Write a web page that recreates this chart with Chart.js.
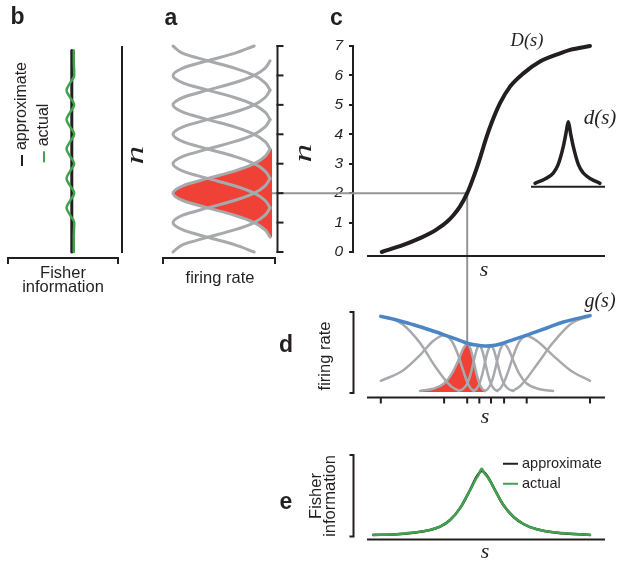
<!DOCTYPE html>
<html>
<head>
<meta charset="utf-8">
<title>Tuning curves and Fisher information</title>
<script src="https://cdn.jsdelivr.net/npm/chart.js@4.4.1/dist/chart.umd.min.js"></script>
<style>
  html, body { margin: 0; padding: 0; background: #fff; }
  #fig { position: relative; width: 625px; height: 565px; overflow: hidden; background: #fff; }
  #fig canvas { position: absolute; left: 0; top: 0; }
  .t { position: absolute; white-space: nowrap; line-height: 1; color: #231f20;
       font-family: "Liberation Sans", Arial, sans-serif; }
  .m { font-family: "Liberation Serif", "Times New Roman", serif; font-style: italic; }
  .p { font-weight: bold; }
  .dash { display: inline-block; width: 11px; height: 2.5px; vertical-align: middle; margin-right: 5px; }
  .two { text-align: center; line-height: 0.82; }
</style>
</head>
<body>
<div id="fig">
  <canvas id="chartC" width="625" height="565"></canvas>
  <canvas id="chartInset" width="625" height="565"></canvas>
  <canvas id="chartA" width="625" height="565"></canvas>
  <canvas id="chartB" width="625" height="565"></canvas>
  <canvas id="chartD" width="625" height="565"></canvas>
  <canvas id="chartE" width="625" height="565"></canvas>
</div>
<script>
// panel a: one tuning profile (rate vs offset from preferred n), shared by all neurons
var tuneOffsets = [-1.5, -1.25, -1, -0.75, -0.5, -0.25, 0, 0.25, 0.5, 0.75, 1, 1.25, 1.5];
var tuneRates = [0.02, 0.07, 0.18, 0.38, 0.65, 0.9, 1, 0.9, 0.65, 0.38, 0.18, 0.07, 0.02];
var neuronN = [0, 1, 2, 3, 4, 5, 6, 7];
var highlightN = 2;

// panel b: Fisher information along n
var fisherN = [0, 0.25, 0.5, 0.75, 1, 1.25, 1.5, 1.75, 2, 2.25, 2.5, 2.75, 3, 3.25, 3.5, 3.75,
               4, 4.25, 4.5, 4.75, 5, 5.25, 5.5, 5.75, 6, 6.25, 6.5, 6.75, 6.85];
var fisherActual = [0.598, 0.598, 0.598, 0.6, 0.602, 0.565, 0.532, 0.565, 0.602, 0.565, 0.532, 0.565,
                    0.602, 0.565, 0.532, 0.565, 0.602, 0.565, 0.532, 0.565, 0.602, 0.565, 0.532, 0.565,
                    0.602, 0.6, 0.598, 0.598, 0.598];
var approxN = [0, 6.85];
var fisherApprox = [0.58, 0.58];

// panel c: D(s), and the inset d(s)
var curveS = [0.062, 0.153, 0.223, 0.265, 0.293, 0.335, 0.363, 0.391, 0.421, 0.441, 0.461,
              0.479, 0.5, 0.524, 0.559, 0.601, 0.657, 0.727, 0.811, 0.853, 0.937];
var curveD = [0, 0.24, 0.47, 0.635, 0.77, 1.02, 1.25, 1.55, 2, 2.4, 2.85,
              3.3, 3.85, 4.4, 5.06, 5.62, 6.07, 6.47, 6.75, 6.87, 7];
var levelLabels = ['0', '1', '2', '3', '4', '5', '6', '7'];
var insetX = [0.054, 0.189, 0.301, 0.365, 0.436, 0.473, 0.504, 0.534, 0.572, 0.642, 0.707, 0.811, 0.932];
var insetY = [0.052, 0.113, 0.197, 0.31, 0.568, 0.76, 0.92, 0.76, 0.568, 0.31, 0.197, 0.113, 0.052];
var linkD = 2;
var linkS = 0.421;

// panel d: tuning curves in s, gain g(s), tick marks at D(s) = 0..7
var tickS = [0.058, 0.324, 0.421, 0.472, 0.521, 0.576, 0.671, 0.937];
var gain = [[0.058, 0.945], [0.125, 0.9], [0.195, 0.84], [0.265, 0.775], [0.324, 0.715], [0.38, 0.655],
            [0.421, 0.61], [0.45, 0.59], [0.472, 0.582], [0.503, 0.574], [0.53, 0.58], [0.56, 0.6],
            [0.615, 0.655], [0.671, 0.71], [0.755, 0.8], [0.825, 0.875], [0.937, 0.955]];
var tune0 = [[0.058, 0.94], [0.107, 0.915], [0.151, 0.844], [0.223, 0.611], [0.278, 0.356],
             [0.324, 0.167], [0.356, 0.064], [0.383, 0.02]];
var tune1 = [[0.058, 0.14], [0.151, 0.269], [0.223, 0.462], [0.278, 0.638], [0.324, 0.71], [0.356, 0.638],
             [0.383, 0.462], [0.404, 0.269], [0.421, 0.126], [0.435, 0.048], [0.448, 0.015]];
var tune2 = [[0.223, 0.013], [0.278, 0.041], [0.324, 0.107], [0.356, 0.227], [0.383, 0.39], [0.404, 0.539],
             [0.421, 0.6], [0.435, 0.539], [0.448, 0.39], [0.46, 0.227], [0.472, 0.107], [0.484, 0.041],
             [0.496, 0.013]];
var tune3 = [[0.383, 0.012], [0.404, 0.039], [0.421, 0.103], [0.435, 0.22], [0.448, 0.377], [0.46, 0.521],
             [0.472, 0.58], [0.484, 0.521], [0.496, 0.377], [0.508, 0.22], [0.521, 0.103], [0.534, 0.039],
             [0.547, 0.012]];
var tune4 = [[0.448, 0.012], [0.46, 0.039], [0.472, 0.102], [0.484, 0.218], [0.496, 0.374], [0.508, 0.516],
             [0.521, 0.575], [0.534, 0.516], [0.547, 0.374], [0.561, 0.218], [0.576, 0.102], [0.594, 0.039],
             [0.615, 0.012]];
var tune5 = [[0.496, 0.013], [0.508, 0.041], [0.521, 0.107], [0.534, 0.227], [0.547, 0.39], [0.561, 0.539],
             [0.576, 0.6], [0.594, 0.539], [0.615, 0.39], [0.64, 0.227], [0.671, 0.107], [0.718, 0.041],
             [0.782, 0.013]];
var tune6 = [[0.547, 0.015], [0.561, 0.048], [0.576, 0.125], [0.594, 0.265], [0.615, 0.455], [0.64, 0.629],
             [0.671, 0.7], [0.718, 0.629], [0.782, 0.455], [0.857, 0.265], [0.937, 0.14]];
var tune7 = [[0.615, 0.02], [0.64, 0.065], [0.671, 0.169], [0.718, 0.36], [0.782, 0.618], [0.857, 0.853],
             [0.937, 0.95]];

// panel e: Fisher information along s
var eS = [0.026, 0.125, 0.195, 0.265, 0.307, 0.349, 0.391, 0.433, 0.461, 0.482, 0.505, 0.538,
          0.573, 0.615, 0.657, 0.713, 0.797, 0.937];
var eApprox = [0.006, 0.015, 0.035, 0.068, 0.109, 0.193, 0.34, 0.565, 0.73, 0.8, 0.74, 0.565,
               0.378, 0.233, 0.143, 0.077, 0.035, 0.006];
var eActualS = [0.026, 0.125, 0.195, 0.265, 0.307, 0.349, 0.391, 0.425, 0.445, 0.457, 0.468, 0.482,
                0.494, 0.508, 0.52, 0.538, 0.573, 0.615, 0.657, 0.713, 0.797, 0.937];
var eActual = [0.008, 0.017, 0.036, 0.07, 0.11, 0.19, 0.34, 0.52, 0.63, 0.7, 0.75, 0.83,
               0.77, 0.72, 0.66, 0.56, 0.38, 0.235, 0.145, 0.078, 0.036, 0.008];

var INK = '#231f20', GRAY = '#a7a9ac', LINK = '#939598', RED = '#ef4136', GREEN = '#3fa34d', BLUE = '#4a85c5';

Chart.defaults.font.family = '"Liberation Sans", Arial, sans-serif';

function pairs(xs, ys) { return xs.map(function (x, i) { return { x: x, y: ys[i] }; }); }
function fromPairs(arr) { return arr.map(function (p) { return { x: p[0], y: p[1] }; }); }
function frame(left, top, right, bottom) { return { left: left, top: top, right: 625 - right, bottom: 565 - bottom }; }
function lin(min, max, extra) { return Object.assign({ type: 'linear', display: false, min: min, max: max }, extra || {}); }

function options(area, scales, extra) {
  return Object.assign({
    responsive: false,
    animation: false,
    events: [],
    layout: { padding: area },
    plugins: { legend: { display: false }, tooltip: { enabled: false } },
    elements: { point: { radius: 0 }, line: { cubicInterpolationMode: 'monotone', borderCapStyle: 'round', borderJoinStyle: 'round' } },
    scales: scales
  }, extra || {});
}

function pen(ctx, color, width, pts) {
  ctx.save();
  ctx.strokeStyle = color;
  ctx.lineWidth = width;
  ctx.beginPath();
  pts.forEach(function (p, i) { if (i) ctx.lineTo(p[0], p[1]); else ctx.moveTo(p[0], p[1]); });
  ctx.stroke();
  ctx.restore();
}

// a
var curvesA = neuronN.map(function (k) {
  var pts = [];
  tuneOffsets.forEach(function (u, i) {
    if (k + u >= 0 && k + u <= 7) pts.push({ x: tuneRates[i], y: k + u });
  });
  return pts;
});

var chartA = new Chart(document.getElementById('chartA'), {
  type: 'line',
  data: {
    datasets: curvesA.map(function (pts, i) {
      var hot = neuronN[i] === highlightN;
      return { data: pts, borderColor: GRAY, borderWidth: 3, backgroundColor: RED,
               fill: hot ? 'origin' : false, order: hot ? 2 : 1, clip: 3 };
    })
  },
  options: options(frame(173, 46, 277, 252), {
    x: lin(-0.05, 1, { reverse: true }),
    y: lin(0, 7)
  }, { indexAxis: 'y' }),
  plugins: [{
    id: 'axesA',
    afterDraw: function (chart) {
      var a = chart.chartArea, y = chart.scales.y, ctx = chart.ctx, ax = a.right + 0.5;
      pen(ctx, INK, 2, [[ax, y.getPixelForValue(0) + 1], [ax, y.getPixelForValue(7) - 1]]);
      neuronN.forEach(function (n) {
        var py = y.getPixelForValue(n);
        pen(ctx, INK, 2, [[ax - 1, py], [ax + 6, py]]);
      });
      var by = a.bottom + 6;
      pen(ctx, INK, 2, [[a.left - 10, by + 6], [a.left - 10, by], [a.right - 2, by], [a.right - 2, by + 6]]);
    }
  }]
});

// b
var chartB = new Chart(document.getElementById('chartB'), {
  type: 'line',
  data: {
    datasets: [
      { data: pairs(fisherActual, fisherN), borderColor: GREEN, borderWidth: 2.5, order: 0, clip: 3 },
      { data: pairs(fisherApprox, approxN), borderColor: INK, borderWidth: 3, order: 1, clip: 3 }
    ]
  },
  options: options(frame(8, 46, 118, 252), { x: lin(0, 1), y: lin(0, 7) }, { indexAxis: 'y' }),
  plugins: [{
    id: 'axesB',
    afterDraw: function (chart) {
      var a = chart.chartArea, ctx = chart.ctx;
      pen(ctx, INK, 2, [[a.right + 4, a.top], [a.right + 4, a.bottom + 1]]);
      var by = a.bottom + 6;
      pen(ctx, INK, 2, [[a.left, by + 6], [a.left, by], [a.right, by], [a.right, by + 6]]);
    }
  }]
});

// d
var tuneD = [tune0, tune1, tune2, tune3, tune4, tune5, tune6, tune7];
var chartD = new Chart(document.getElementById('chartD'), {
  type: 'line',
  data: {
    datasets: [{ data: fromPairs(gain), borderColor: BLUE, borderWidth: 3.5, order: 0, clip: 4 }].concat(
      tuneD.map(function (t, i) {
        var hot = neuronN[i] === highlightN;
        return { data: fromPairs(t), borderColor: GRAY, borderWidth: 2.5, backgroundColor: RED,
                 fill: hot ? 'origin' : false, order: hot ? 2 : 1, clip: 3 };
      }))
  },
  options: options(frame(367, 312, 605, 392), { x: lin(0, 1), y: lin(0, 1) }),
  plugins: [{
    id: 'axesD',
    afterDraw: function (chart) {
      var a = chart.chartArea, x = chart.scales.x, ctx = chart.ctx;
      var bx = a.left - 13.5;
      pen(ctx, INK, 2, [[bx - 4, a.top], [bx, a.top], [bx, a.bottom + 1], [bx - 4, a.bottom + 1]]);
      var ay = a.bottom + 5.5;
      pen(ctx, INK, 2, [[a.left, ay], [a.right, ay]]);
      tickS.forEach(function (s) {
        var px = x.getPixelForValue(s);
        pen(ctx, INK, 2, [[px, ay], [px, ay + 6]]);
      });
    }
  }]
});

// e
var chartE = new Chart(document.getElementById('chartE'), {
  type: 'line',
  data: {
    datasets: [
      { data: pairs(eActualS, eActual), borderColor: GREEN, borderWidth: 2.5, order: 0, clip: 3 },
      { data: pairs(eS, eApprox), borderColor: INK, borderWidth: 2.5, order: 1, clip: 3 }
    ]
  },
  options: options(frame(367, 455, 605, 535.5), { x: lin(0, 1), y: lin(0, 1) }),
  plugins: [{
    id: 'axesE',
    afterDraw: function (chart) {
      var a = chart.chartArea, ctx = chart.ctx, bx = a.left - 13.5;
      pen(ctx, INK, 2, [[bx - 4, a.top], [bx, a.top], [bx, a.bottom + 1], [bx - 4, a.bottom + 1]]);
      pen(ctx, INK, 2, [[a.left, a.bottom + 4], [a.right, a.bottom + 4]]);
    }
  }]
});

// c inset d(s)
var chartInset = new Chart(document.getElementById('chartInset'), {
  type: 'line',
  data: { datasets: [{ data: pairs(insetX, insetY), borderColor: INK, borderWidth: 3.5, clip: 4 }] },
  options: options(frame(531, 116, 605, 187), { x: lin(0, 1), y: lin(0, 1) }),
  plugins: [{
    id: 'axisInset',
    afterDraw: function (chart) {
      var a = chart.chartArea;
      pen(chart.ctx, INK, 2, [[a.left, a.bottom - 0.3], [a.right, a.bottom - 0.3]]);
    }
  }]
});

// c
var chartC = new Chart(document.getElementById('chartC'), {
  type: 'line',
  data: { datasets: [{ data: pairs(curveS, curveD), borderColor: INK, borderWidth: 4, clip: 4 }] },
  options: options(frame(300, 46, 605, 252), {
    x: lin(-14 / 238, 1),
    y: {
      type: 'linear', min: 0, max: 7,
      afterFit: function (scale) { scale.width = 53; },
      ticks: {
        stepSize: 1, color: INK, padding: 6,
        font: { family: '"Liberation Sans", Arial, sans-serif', size: 15.5, style: 'italic' },
        callback: function (v) { return levelLabels[v]; }
      },
      grid: { drawOnChartArea: false, drawTicks: true, tickLength: 4, color: INK, lineWidth: 2 },
      border: { display: true, color: INK, width: 2 }
    }
  }),
  plugins: [{
    id: 'axesC',
    beforeDatasetsDraw: function (chart) {
      var x = chart.scales.x, y = chart.scales.y;
      var peak = Math.max.apply(null, tune2.map(function (p) { return p[1]; }));
      var yL = y.getPixelForValue(linkD), xL = x.getPixelForValue(linkS);
      pen(chart.ctx, LINK, 2, [
        [chartA.scales.x.getPixelForValue(0), yL],
        [xL, yL],
        [xL, chartD.scales.y.getPixelForValue(peak)]
      ]);
    },
    afterDraw: function (chart) {
      var a = chart.chartArea, x = chart.scales.x;
      pen(chart.ctx, INK, 2, [[x.getPixelForValue(0), a.bottom + 4], [a.right, a.bottom + 4]]);
    }
  }]
});

// text
var fig = document.getElementById('fig');
function label(html, x, y, cls, size, rot, anchor, more) {
  var el = document.createElement('div');
  el.className = 't ' + (cls || '');
  el.style.fontSize = size + 'px';
  el.style.left = x + 'px';
  el.style.top = y + 'px';
  var tr = anchor === 'l' ? 'translate(0,-50%)' : 'translate(-50%,-50%)';
  if (rot) tr += ' rotate(' + rot + 'deg)';
  if (more) tr += ' ' + more;
  el.style.transform = tr;
  el.innerHTML = html;
  fig.appendChild(el);
  return el;
}

label('b', 17.5, 16, 'p', 23);
label('a', 171, 16.5, 'p', 23);
label('c', 336.5, 17, 'p', 23);
label('d', 286, 344, 'p', 23);
label('e', 286, 501, 'p', 23);

label('<span class="dash" style="background:' + INK + '"></span>approximate', 21, 113.5, '', 16, -90);
label('<span class="dash" style="background:' + GREEN + '"></span>actual', 42.5, 132.5, '', 16, -90);
label('n', 134, 155, 'm', 25, -90, null, 'scale(1.5,1)');
label('Fisher<br>information', 63, 280, 'two', 16.5);

label('n', 302, 153, 'm', 25, -90, null, 'scale(1.5,1)');
label('firing rate', 220, 277, '', 16.5);

label('D(s)', 527, 40, 'm', 18.5);
label('d(s)', 600, 117, 'm', 21);
label('s', 484, 269, 'm', 22);

label('g(s)', 600, 300, 'm', 20);
label('firing rate', 324, 356, '', 16.5, -90);
label('s', 485, 416, 'm', 22);

label('Fisher<br>information', 322.5, 496, 'two', 16.5, -90);
label('s', 485, 551, 'm', 22);
label('<span class="dash" style="background:' + INK + ';width:15px;margin-right:4px"></span>approximate', 503, 463, '', 14.5, 0, 'l');
label('<span class="dash" style="background:' + GREEN + ';width:15px;margin-right:4px"></span>actual', 503, 483, '', 14.5, 0, 'l');
</script>
</body>
</html>
